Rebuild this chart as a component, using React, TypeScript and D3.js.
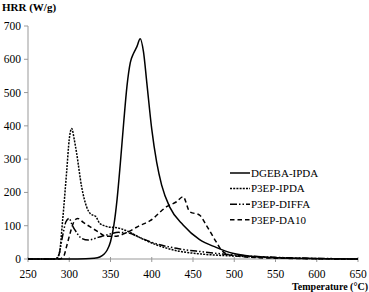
import React from 'react'
import * as d3 from 'd3'

const WIDTH = 369
const HEIGHT = 292
const X0 = 28
const X1 = 358
const Y0 = 259
const Y1 = 26

const xTicks = [250, 300, 350, 400, 450, 500, 550, 600, 650]
const yTicks = [0, 100, 200, 300, 400, 500, 600, 700]

// [temperature, HRR]
const dgebaIpda = [
  [250, 0], [300, 0], [320, 0.5], [330, 2], [337, 6], [342, 14], [346, 27], [350, 52],
  [354, 100], [358, 180], [362, 290], [366, 410], [370, 520], [374, 590], [378, 618],
  [382, 638], [386, 662], [390, 622], [394, 530], [400, 390], [406, 290], [412, 222],
  [422, 155], [438, 102], [458, 58], [478, 35], [498, 17], [520, 8], [550, 4], [600, 1], [650, 0],
]
const p3epIpda = [
  [250, 0], [284, 0], [288, 17], [292, 117], [297, 267], [300, 360], [303, 392], [306, 360],
  [309, 317], [315, 217], [321, 157], [326, 135], [332, 128], [337, 107], [345, 98],
  [361, 92], [372, 82], [385, 65], [400, 48], [430, 25], [460, 15], [500, 9], [550, 4], [600, 1], [650, 0],
]
const p3epDiffa = [
  [250, 0], [283, 0], [287, 10], [292, 70], [296, 112], [300, 122], [303, 105], [307, 87],
  [315, 62], [323, 57], [335, 65], [345, 72], [360, 80], [372, 78], [385, 65], [400, 50],
  [430, 32], [460, 22], [500, 12], [550, 5], [600, 2], [650, 0],
]
const p3epDa10 = [
  [250, 0], [288, 0], [293, 7], [297, 40], [301, 77], [305, 108], [310, 122], [317, 110],
  [325, 97], [335, 82], [345, 68], [355, 68], [370, 80], [385, 100], [398, 115], [418, 157],
  [430, 172], [438, 187], [446, 142], [458, 132], [466, 102], [478, 52], [485, 25],
  [495, 12], [520, 5], [560, 2], [650, 0],
]

const series = [
  { name: 'DGEBA-IPDA', data: dgebaIpda, dash: null },
  { name: 'P3EP-IPDA', data: p3epIpda, dash: '2,1.2' },
  { name: 'P3EP-DIFFA', data: p3epDiffa, dash: '7,2,1.5,2,1.5,2' },
  { name: 'P3EP-DA10', data: p3epDa10, dash: '4.5,3' },
]

const FONT = 'Liberation Serif, Times New Roman, serif'

export default function App() {
  const x = d3.scaleLinear().domain([250, 650]).range([X0, X1])
  const y = d3.scaleLinear().domain([0, 700]).range([Y0, Y1])
  const line = d3.line<number[]>()
    .x(d => x(d[0]))
    .y(d => y(d[1]))
    .curve(d3.curveMonotoneX)

  return (
    <svg width={WIDTH} height={HEIGHT} style={{ position: 'absolute', left: 0, top: 0, background: '#fff' }}
      fontFamily={FONT}>
      {/* axes */}
      <line x1={X0} x2={X0} y1={Y1} y2={Y0} stroke="#999" />
      <line x1={X0} x2={X1} y1={Y0} y2={Y0} stroke="#999" />
      {yTicks.map(t => (
        <g key={t}>
          <line x1={X0 - 4} x2={X0} y1={y(t)} y2={y(t)} stroke="#999" />
          <text x={21} y={y(t)} dy="0.35em" textAnchor="end" fontSize={11.5} fill="#000">{t}</text>
        </g>
      ))}
      {xTicks.map(t => (
        <g key={t}>
          <line x1={x(t)} x2={x(t)} y1={Y0 - 2} y2={Y0 + 3} stroke="#999" />
          <text x={x(t)} y={278} textAnchor="middle" fontSize={11.5} fill="#000">{t}</text>
        </g>
      ))}
      <text x={2} y={11} fontSize={11} fontWeight="bold" fill="#000">HRR (W/g)</text>
      <text x={368} y={290} textAnchor="end" fontSize={10} fontWeight="bold" fill="#000">Temperature (°C)</text>

      {series.map(s => (
        <path key={s.name} d={line(s.data) || ''} fill="none" stroke="#000" strokeWidth={1.5}
          strokeDasharray={s.dash || undefined} />
      ))}

      {/* legend */}
      {series.map((s, i) => {
        const ly = 173 + i * 15.6
        return (
          <g key={s.name}>
            <line x1={230} x2={250} y1={ly} y2={ly} stroke="#000" strokeWidth={1.5}
              strokeDasharray={s.dash || undefined} />
            <text x={251} y={ly} dy="0.35em" fontSize={11} fill="#000">{s.name}</text>
          </g>
        )
      })}
    </svg>
  )
}
